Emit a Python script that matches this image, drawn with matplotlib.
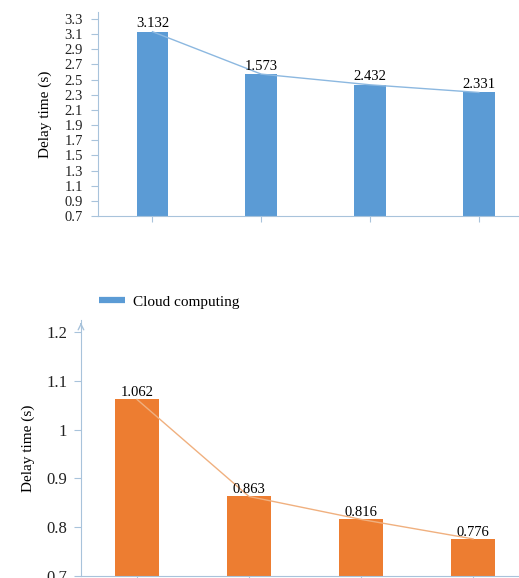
import matplotlib.pyplot as plt
from matplotlib.lines import Line2D

plt.rcParams['font.family'] = ['Liberation Serif', 'DejaVu Serif']
plt.rcParams['font.size'] = 10

# delay times for the cloud computing case (top) and the edge case (bottom)
cloud_delay = [3.132, 2.573, 2.432, 2.331]
cloud_labels = ["3.132", "1.573", "2.432", "2.331"]
cloud_yticks = [0.7, 0.9, 1.1, 1.3, 1.5, 1.7, 1.9, 2.1, 2.3, 2.5, 2.7, 2.9, 3.1, 3.3]

edge_delay = [1.062, 0.863, 0.816, 0.776]
edge_labels = ["1.062", "0.863", "0.816", "0.776"]
edge_yticks = [0.7, 0.8, 0.9, 1.0, 1.1, 1.2]
edge_ytick_labels = ["0.7", "0.8", "0.9", "1", "1.1", "1.2"]

blue = '#5b9bd5'
orange = '#ed7d31'
spine_col = '#a8c3db'

fig = plt.figure(figsize=(5.19, 5.78), dpi=100)

x = [0.5, 1.5, 2.5, 3.5]

# top panel
ax1 = fig.add_axes([0.189, 0.626, 0.811, 0.353])
ax1.bar(x, cloud_delay, width=0.29, color=blue)
ax1.plot(x, cloud_delay, color='#8cb8e0', lw=1)
for xi, v, t in zip(x, cloud_delay, cloud_labels):
    ax1.annotate(t, (xi, v), xytext=(0, 1), textcoords='offset points',
                 ha='center', va='bottom', fontsize=10.5)
ax1.set_xlim(0, 3.87)
ax1.set_ylim(0.7, 3.39)
ax1.set_yticks(cloud_yticks)
ax1.set_yticklabels([f"{t:.1f}" for t in cloud_yticks])
ax1.set_xticks(x)
ax1.set_xticklabels([])
ax1.tick_params(axis='y', labelsize=10.5, pad=6)
ax1.set_ylabel("Delay time (s)", fontsize=11, labelpad=9)

# bottom panel
ax2 = fig.add_axes([0.156, 0.0035, 0.844, 0.443])
ax2.bar(x, edge_delay, width=0.39, color=orange)
ax2.plot(x, edge_delay, color='#f0b07f', lw=1)
for xi, v, t in zip(x, edge_delay, edge_labels):
    ax2.annotate(t, (xi, v), xytext=(0, 0), textcoords='offset points',
                 ha='center', va='bottom', fontsize=10.5)
ax2.set_xlim(0, 3.91)
ax2.set_ylim(0.7, 1.225)
ax2.set_yticks(edge_yticks)
ax2.set_yticklabels(edge_ytick_labels)
ax2.set_xticks(x)
ax2.set_xticklabels([])
ax2.tick_params(axis='y', labelsize=12, pad=5)
ax2.set_ylabel("Delay time (s)", fontsize=11, labelpad=8)
# arrow head on top of the y axis
ax2.annotate('', xy=(0, 1.0), xytext=(0, 0.97), xycoords='axes fraction',
             arrowprops=dict(arrowstyle='->', color=spine_col, lw=1))

for ax in (ax1, ax2):
    ax.spines['top'].set_visible(False)
    ax.spines['right'].set_visible(False)
    ax.spines['left'].set_color(spine_col)
    ax.spines['bottom'].set_color(spine_col)
    ax.tick_params(axis='y', colors=spine_col, labelcolor='#222222', length=5)
    ax.tick_params(axis='x', colors=spine_col, length=4)

fig.legend(handles=[Line2D([], [], color=blue, lw=4.5, solid_capstyle='butt')],
           labels=["Cloud computing"], loc='center left',
           bbox_to_anchor=(0.19, 0.478), frameon=False, fontsize=11,
           handlelength=1.7, handletextpad=0.55, borderpad=0, borderaxespad=0)

fig.savefig('out.png', dpi=100, facecolor='white')
